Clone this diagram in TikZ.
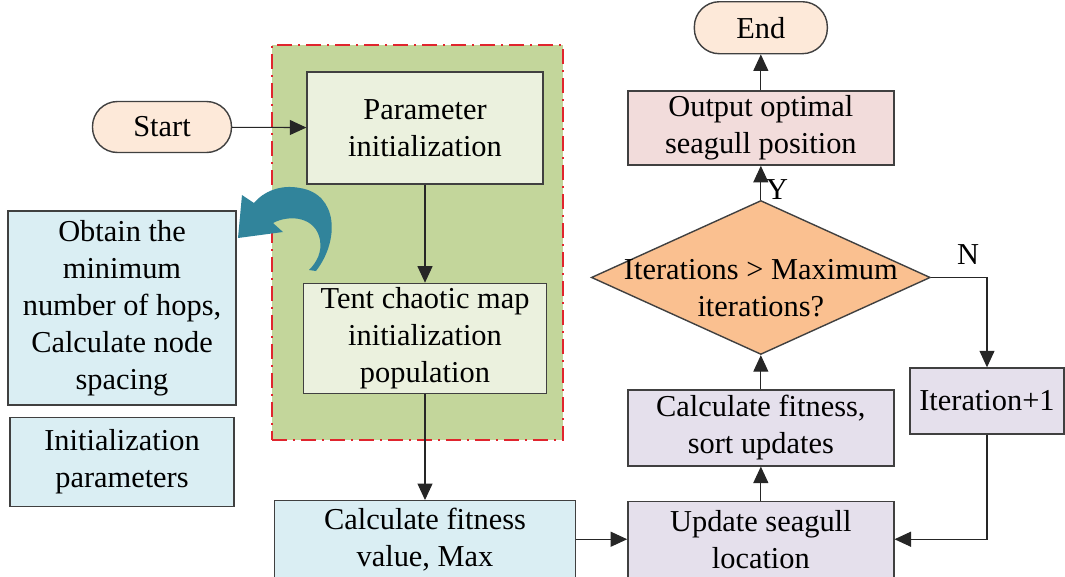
\documentclass[tikz,border=0pt]{standalone}
\usepackage{fontspec}
\setmainfont{Liberation Serif}
\usepackage{xcolor}
\usepackage{tikz}
\usetikzlibrary{arrows.meta,positioning,shapes.geometric}

\definecolor{zonegreen}{HTML}{C3D69B}
\definecolor{zonered}{HTML}{E0252E}
\definecolor{lgreen}{HTML}{EBF1DE}
\definecolor{lpeach}{HTML}{FDE9D9}
\definecolor{lblue}{HTML}{DAEEF3}
\definecolor{lpink}{HTML}{F2DCDB}
\definecolor{lpurple}{HTML}{E5E0EC}
\definecolor{lorange}{HTML}{FAC090}
\definecolor{bentteal}{HTML}{31849B}

\begin{document}
\begin{tikzpicture}[
  x=0.02cm, y=-0.02cm,
  font=\fontsize{17.3}{21}\selectfont,
  box/.style={rectangle, draw=black!75, line width=0.8pt, align=center, inner sep=1pt},
  term/.style={box, rounded corners=5mm, fill=lpeach},
  decis/.style={diamond, draw=black!75, line width=0.8pt, fill=lorange, inner sep=0pt,
                minimum width=67.8mm, minimum height=30.8mm},
  zone/.style={rectangle, fill=zonegreen, draw=zonered, line width=1pt,
               dash pattern=on 3mm off 1.2mm on 0.4mm off 1.2mm},
  arr/.style={-{Triangle[length=3.3mm,width=3mm]}, draw=black!85, line width=0.6pt}
]
\useasboundingbox (0,0) rectangle (1065,576);
\node[zone, minimum width=58.2mm, minimum height=79mm] (initzone) at (417.5,242.5) {};
\node[term, minimum width=27.8mm, minimum height=10.2mm] (start) at (162,127) {Start};
\node[box, fill=lgreen, minimum width=47.2mm, minimum height=22.4mm] (param) at (425,128) {Parameter\\initialization};
\node[box, fill=lgreen, minimum width=48.6mm, minimum height=22mm, below=19.6mm of param] (tent) {Tent chaotic map\\initialization\\population};
\node[box, fill=lblue, minimum width=60.2mm, minimum height=15.4mm, below=21.2mm of tent] (fitval) {Calculate fitness\\value, Max};
\node[box, fill=lpurple, minimum width=53.2mm, minimum height=15.2mm, right=10.2mm of fitval] (update) {Update seagull\\location};
\node[box, fill=lpurple, minimum width=53.2mm, minimum height=15.2mm, above=6.8mm of update] (sortfit) {Calculate fitness,\\sort updates};
\node[decis, above=6.8mm of sortfit] (check) {};
\node[align=center, inner sep=0pt, yshift=-2.2mm] (checktxt) at (check) {Iterations > Maximum\\iterations?};
\node[box, fill=lpink, minimum width=53.2mm, minimum height=14.8mm, above=6.8mm of check] (output) {Output optimal\\seagull position};
\node[term, minimum width=26.6mm, minimum height=10.4mm, above=7.2mm of output] (end) {End};
\node[box, fill=lpurple, minimum width=30.8mm, minimum height=13.2mm] (iter) at (987,401) {Iteration+1};
\node[box, fill=lblue, minimum width=45.6mm, minimum height=38.8mm] (obtain) at (122,308) {Obtain the\\minimum\\number of hops,\\Calculate node\\spacing};
\node[box, fill=lblue, minimum width=44.8mm, minimum height=17.8mm, below=2.2mm of obtain] (initpar) {Initialization\\parameters};
\node (ylab) at (777,190) {Y};
\node (nlab) at (968,255) {N};
% bent arrow back to the left boxes
\fill[bentteal] (316,271) .. controls (340,240) and (338,194) .. (300,188)
  .. controls (280,184) and (263,192) .. (254,203) -- (242,195) -- (238,238) -- (283,232) -- (273,223)
  .. controls (290,214) and (316,217) .. (320,240) .. controls (322,252) and (317,262) .. (309,270) -- cycle;
\draw[arr] (start) -- (param); \draw[arr] (param) -- (tent);
\draw[arr] (tent) -- (fitval); \draw[arr] (fitval) -- (update);
\draw[arr] (update) -- (sortfit); \draw[arr] (sortfit) -- (check);
\draw[arr] (check) -- (output); \draw[arr] (output) -- (end);
\draw[arr] (check.east) -| (iter.north); \draw[arr] (iter.south) |- (update.east);
\end{tikzpicture}
\end{document}
